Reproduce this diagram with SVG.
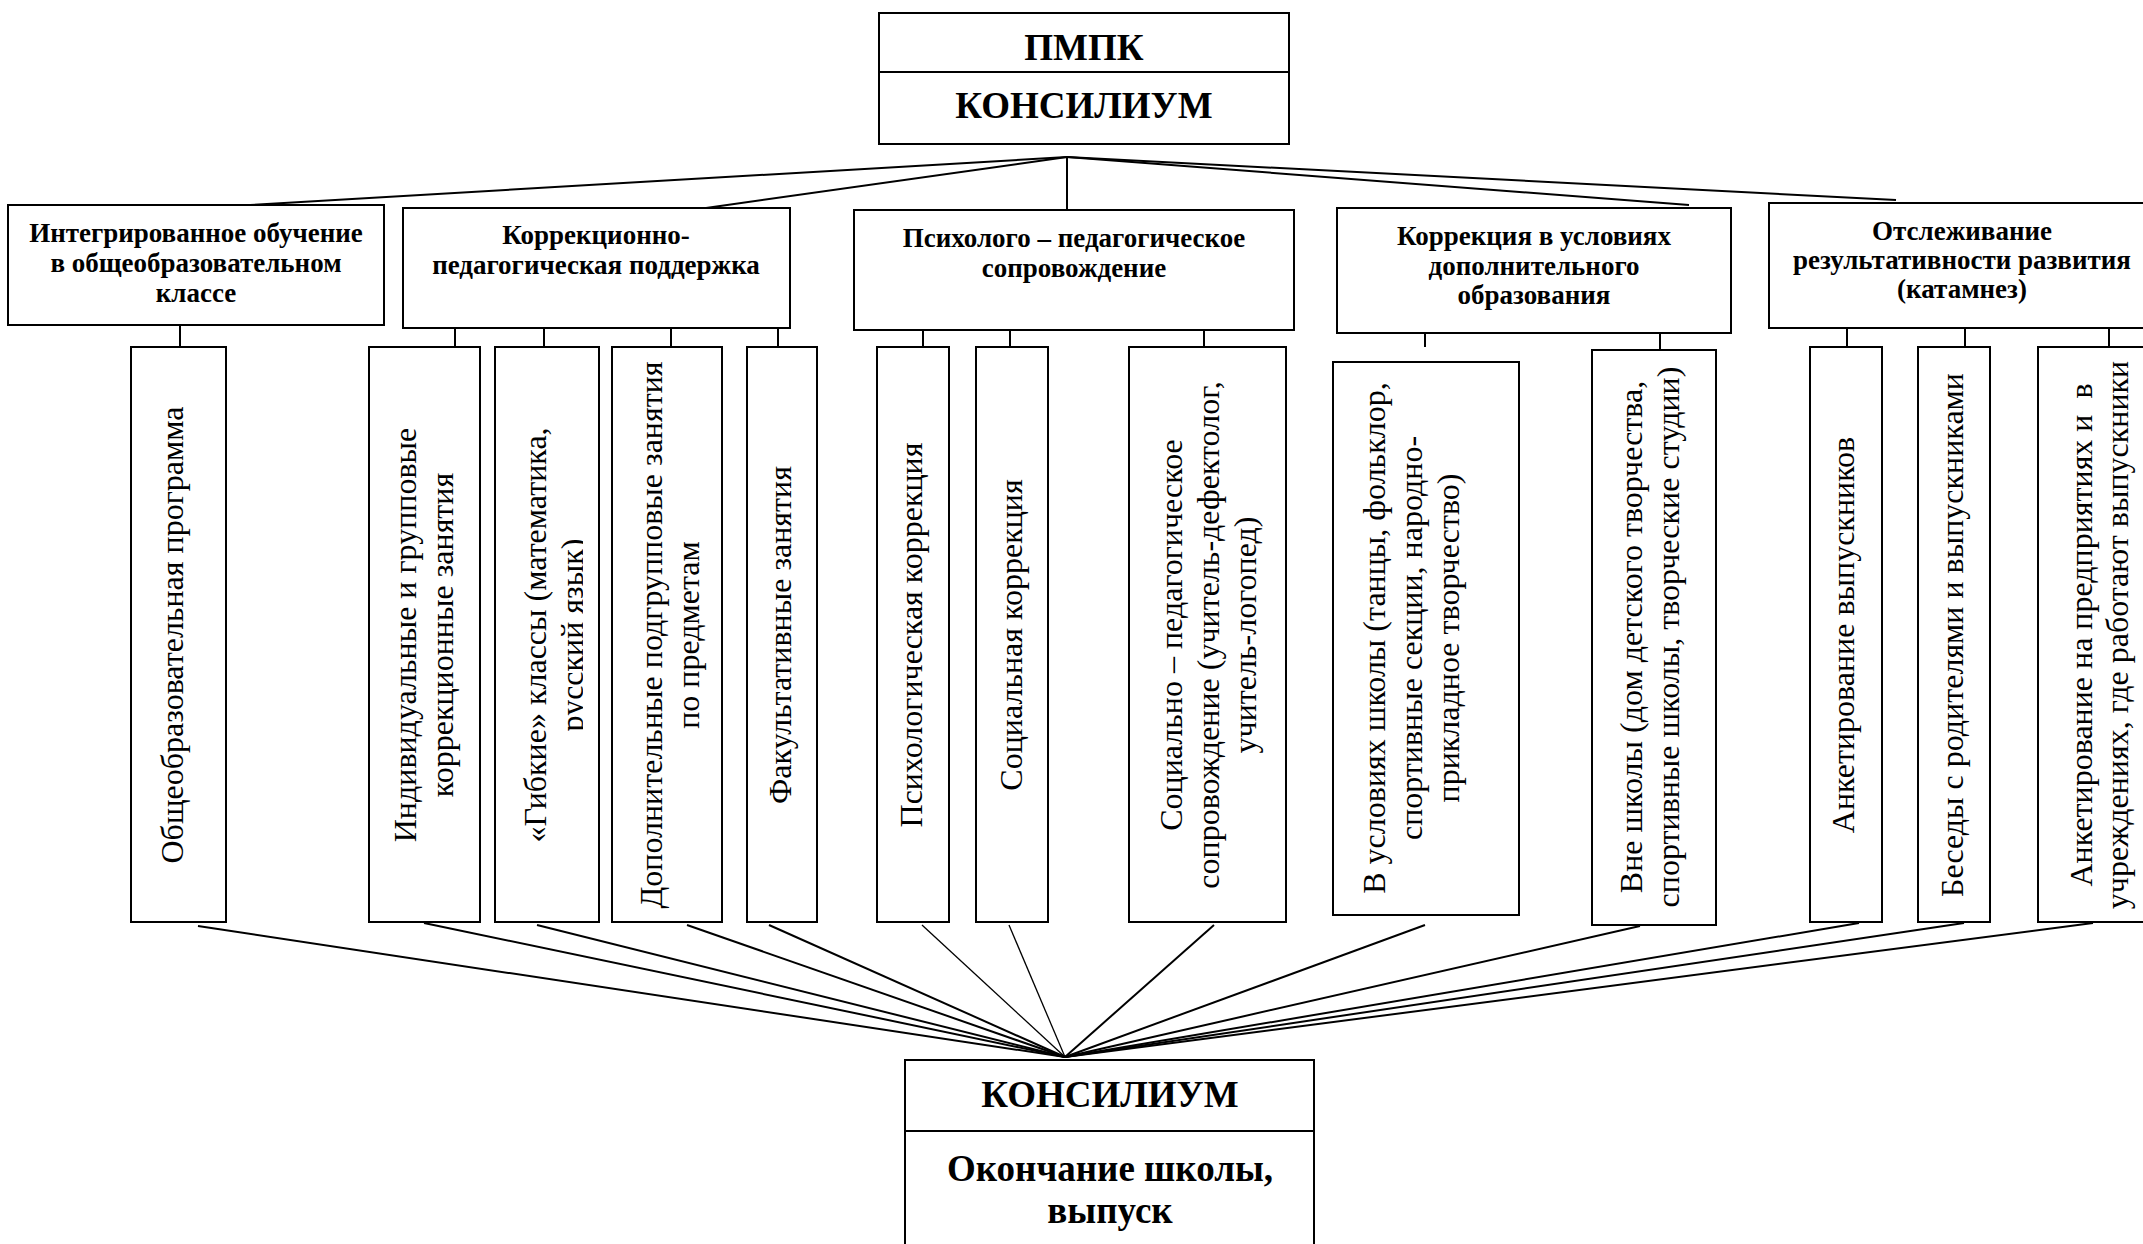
<svg xmlns="http://www.w3.org/2000/svg" width="2143" height="1244" viewBox="0 0 2143 1244">
<style>
.box{fill:#fff;stroke:#000;stroke-width:2}
.t{font-family:"Liberation Serif","Times New Roman",serif;fill:#000}
.h{font-size:27px;font-weight:bold;text-anchor:middle}
.big{font-size:37px;font-weight:bold;text-anchor:middle}
.v{font-size:32px;text-anchor:middle}
.pre{white-space:pre}
#connectors line{stroke:#000;stroke-width:2;fill:none}
#connectors line.thin{stroke-width:1.3}
</style>
<defs>
<clipPath id="clipC3"><rect x="495" y="347" width="88" height="575"/></clipPath>
</defs>
<rect x="0" y="0" width="2143" height="1244" fill="#fff"/>

<g id="connectors">
<line x1="1067" y1="157" x2="250" y2="205"/>
<line x1="1067" y1="157" x2="706" y2="208"/>
<line x1="1067" y1="157" x2="1067" y2="210"/>
<line x1="1067" y1="157" x2="1689" y2="205"/>
<line x1="1067" y1="157" x2="1896" y2="200"/>
<line x1="180" y1="325" x2="180" y2="347"/>
<line x1="455" y1="328" x2="455" y2="347"/>
<line x1="544" y1="328" x2="544" y2="347"/>
<line x1="671" y1="328" x2="671" y2="347"/>
<line x1="778" y1="323" x2="778" y2="347"/>
<line x1="923" y1="326" x2="923" y2="347"/>
<line x1="1010" y1="330" x2="1010" y2="347"/>
<line x1="1204" y1="325" x2="1204" y2="347"/>
<line x1="1425" y1="333" x2="1425" y2="347"/>
<line x1="1660" y1="333" x2="1660" y2="350"/>
<line x1="1847" y1="328" x2="1847" y2="347"/>
<line x1="1965" y1="328" x2="1965" y2="347"/>
<line x1="2109" y1="328" x2="2109" y2="347"/>
<line x1="198" y1="926" x2="1065" y2="1057"/>
<line x1="424" y1="923" x2="1065" y2="1057"/>
<line x1="537" y1="925" x2="1065" y2="1057"/>
<line x1="687" y1="925" x2="1065" y2="1057"/>
<line x1="769" y1="925" x2="1065" y2="1057"/>
<line class="thin" x1="922" y1="925" x2="1065" y2="1057"/>
<line class="thin" x1="1009" y1="925" x2="1065" y2="1057"/>
<line x1="1214" y1="925" x2="1065" y2="1057"/>
<line x1="1425" y1="925" x2="1065" y2="1057"/>
<line x1="1640" y1="926" x2="1065" y2="1057"/>
<line x1="1859" y1="923" x2="1065" y2="1057"/>
<line x1="1964" y1="923" x2="1065" y2="1057"/>
<line x1="2093" y1="923" x2="1065" y2="1057"/>
</g>

<g id="pmpk">
<rect class="box" x="879" y="13" width="410" height="131"/>
<line x1="879" y1="72" x2="1289" y2="72" stroke="#000" stroke-width="2"/>
<text class="t big" x="1084" y="60">ПМПК</text>
<text class="t big" x="1084" y="118">КОНСИЛИУМ</text>
</g>

<g id="b1">
<rect class="box" x="8" y="205" width="376" height="120"/>
<text class="t h" x="196" y="242">Интегрированное обучение</text>
<text class="t h" x="196" y="272">в общеобразовательном</text>
<text class="t h" x="196" y="302">классе</text>
</g>
<g id="b2">
<rect class="box" x="403" y="208" width="387" height="120"/>
<text class="t h" x="596" y="244">Коррекционно-</text>
<text class="t h" x="596" y="274">педагогическая поддержка</text>
</g>
<g id="b3">
<rect class="box" x="854" y="210" width="440" height="120"/>
<text class="t h" x="1074" y="247">Психолого – педагогическое</text>
<text class="t h" x="1074" y="277">сопровождение</text>
</g>
<g id="b4">
<rect class="box" x="1337" y="208" width="394" height="125"/>
<text class="t h" x="1534" y="245">Коррекция в условиях</text>
<text class="t h" x="1534" y="275">дополнительного</text>
<text class="t h" x="1534" y="304">образования</text>
</g>
<g id="b5">
<rect class="box" x="1769" y="203" width="390" height="125"/>
<text class="t h" x="1962" y="240">Отслеживание</text>
<text class="t h" x="1962" y="269">результативности развития</text>
<text class="t h" x="1962" y="298">(катамнез)</text>
</g>

<g id="c1">
<rect class="box" x="131" y="347" width="95" height="575"/>
<text class="t v" transform="translate(183,635) rotate(-90)">Общеобразовательная программа</text>
</g>
<g id="c2">
<rect class="box" x="369" y="347" width="111" height="575"/>
<text class="t v" transform="translate(416,635) rotate(-90)">Индивидуальные и групповые</text>
<text class="t v" transform="translate(453,635) rotate(-90)">коррекционные занятия</text>
</g>
<g id="c3">
<rect class="box" x="495" y="347" width="104" height="575"/>
<text class="t v" transform="translate(546,635) rotate(-90)">«Гибкие» классы (математика,</text>
<g clip-path="url(#clipC3)"><text class="t v" transform="translate(583,635) rotate(-90)">русский язык)</text></g>
</g>
<g id="c4">
<rect class="box" x="612" y="347" width="110" height="575"/>
<text class="t v" transform="translate(662,635) rotate(-90)">Дополнительные подгрупповые занятия</text>
<text class="t v" transform="translate(699,635) rotate(-90)">по предметам</text>
</g>
<g id="c5">
<rect class="box" x="747" y="347" width="70" height="575"/>
<text class="t v" transform="translate(791,635) rotate(-90)">Факультативные занятия</text>
</g>
<g id="c6">
<rect class="box" x="877" y="347" width="72" height="575"/>
<text class="t v" transform="translate(922,635) rotate(-90)">Психологическая коррекция</text>
</g>
<g id="c7">
<rect class="box" x="976" y="347" width="72" height="575"/>
<text class="t v" transform="translate(1022,635) rotate(-90)">Социальная коррекция</text>
</g>
<g id="c8">
<rect class="box" x="1129" y="347" width="157" height="575"/>
<text class="t v" transform="translate(1182,635) rotate(-90)">Социально – педагогическое</text>
<text class="t v" transform="translate(1219,635) rotate(-90)">сопровождение (учитель-дефектолог,</text>
<text class="t v" transform="translate(1256,635) rotate(-90)">учитель-логопед)</text>
</g>
<g id="c9">
<rect class="box" x="1333" y="362" width="186" height="553"/>
<text class="t v" transform="translate(1385,638) rotate(-90)">В условиях школы (танцы, фольклор,</text>
<text class="t v" transform="translate(1422,638) rotate(-90)">спортивные секции, народно-</text>
<text class="t v" transform="translate(1459,638) rotate(-90)">прикладное творчество)</text>
</g>
<g id="c10">
<rect class="box" x="1592" y="350" width="124" height="575"/>
<text class="t v" transform="translate(1642,637) rotate(-90)">Вне школы (дом детского творчества,</text>
<text class="t v" transform="translate(1679,637) rotate(-90)">спортивные школы, творческие студии)</text>
</g>
<g id="c11">
<rect class="box" x="1810" y="347" width="72" height="575"/>
<text class="t v" transform="translate(1854,635) rotate(-90)">Анкетирование выпускников</text>
</g>
<g id="c12">
<rect class="box" x="1918" y="347" width="72" height="575"/>
<text class="t v" transform="translate(1963,635) rotate(-90)">Беседы с родителями и выпускниками</text>
</g>
<g id="c13">
<rect class="box" x="2038" y="347" width="122" height="575"/>
<text class="t v pre" transform="translate(2092,635) rotate(-90)">Анкетирование на предприятиях и  в</text>
<text class="t v" transform="translate(2128,635) rotate(-90)">учреждениях, где работают выпускники</text>
</g>

<g id="final">
<rect class="box" x="905" y="1060" width="409" height="200"/>
<line x1="905" y1="1131" x2="1314" y2="1131" stroke="#000" stroke-width="2"/>
<text class="t big" x="1110" y="1107">КОНСИЛИУМ</text>
<text class="t big" x="1110" y="1181">Окончание школы,</text>
<text class="t big" x="1110" y="1223">выпуск</text>
</g>
</svg>
